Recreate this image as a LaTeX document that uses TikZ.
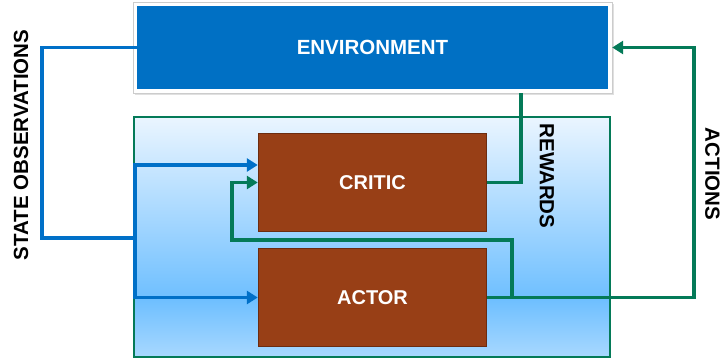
\documentclass[tikz,border=0pt]{standalone}
\usepackage{fontspec}
\setmainfont{Liberation Sans}
\usetikzlibrary{positioning,arrows.meta,calc}

\definecolor{envblue}{HTML}{0070C4}
\definecolor{obsblue}{HTML}{0070C8}
\definecolor{fbgreen}{HTML}{047A58}
\definecolor{boxbrown}{HTML}{983F16}
\definecolor{boxedge}{HTML}{6C2C10}
\definecolor{panelA}{HTML}{EAF5FF}
\definecolor{panelB}{HTML}{6EBFFF}
\definecolor{panelC}{HTML}{A8D8FF}

\pgfdeclareverticalshading{panelshade}{100bp}{color(0bp)=(panelC); color(25bp)=(panelC); color(37bp)=(panelB); color(75bp)=(panelA); color(100bp)=(panelA)}

\begin{document}
\begin{tikzpicture}[
    x=1pt, y=-1pt,
    tag/.style={font=\fontsize{20.5}{24}\selectfont\bfseries, inner sep=0pt},
    block/.style={draw=boxedge, line width=1.5pt, fill=boxbrown, text=white,
      minimum width=228pt, minimum height=98pt, inner sep=0pt,
      font=\fontsize{20}{24}\selectfont\bfseries},
    obs/.style={draw=obsblue, line width=3.6pt},
    fb/.style={draw=fbgreen, line width=3.6pt},
    arrowend/.style={-{Triangle[length=11pt,width=13pt]}}
  ]
  \useasboundingbox (0,0) rectangle (722,358);

  % Agent panel
  \node[shade, shading=panelshade, draw=fbgreen, line width=2pt,
    minimum width=476pt, minimum height=239pt, inner sep=0pt] (panel) at (372,237) {};

  % Environment
  \fill[black!12] (135,4) rectangle (614,95);
  \node[draw=black!20, fill=white, minimum width=479pt, minimum height=91pt,
    inner sep=0pt] (frame) at (372.5,47.5) {};
  \node[fill=envblue, text=white, minimum width=471pt, minimum height=83pt,
    inner sep=0pt, font=\fontsize{20.5}{24}\selectfont\bfseries] (env) at (372.5,47.5) {ENVIRONMENT};

  % Critic and actor
  \node[block] (critic) at (372.5,182.5) {CRITIC};
  \node[block] (actor)  at (372.5,297.5) {ACTOR};

  % Bends
  \coordinate (obsbend)  at (42,238);
  \coordinate (obssplit) at (135,238);
  \coordinate (rewardx)  at (521,183);
  \coordinate (actx)     at (694,297);
  \coordinate (fbsplit)  at (512,297);
  \coordinate (fbleft)   at (232,240);

  % State observations
  \draw[obs] (env.west) -| (obsbend) -- (obssplit);
  \draw[obs, arrowend] (obssplit) |- ([yshift=17.5pt]critic.west);
  \draw[obs, arrowend] (obssplit) |- (actor.west);

  % Rewards and actions
  \draw[fb] (frame.south -| rewardx) |- (critic.east);
  \draw[fb, arrowend] (actor.east) -- (actor.east -| actx) |- (frame.east);
  \draw[fb, arrowend] (actor.east -| fbsplit) |- (fbleft) |- (critic.west);

  % Labels
  \node[tag, rotate=90]  (obslabel)    at (21,145)  {STATE OBSERVATIONS};
  \node[tag, rotate=-90] (rewardlabel) at (547,176) {REWARDS};
  \node[tag, rotate=-90] (actlabel)    at (712.5,174) {ACTIONS};
\end{tikzpicture}
\end{document}
